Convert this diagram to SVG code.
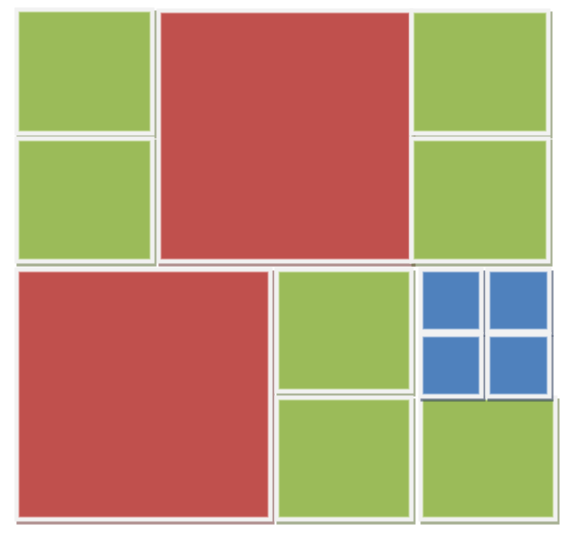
<svg xmlns="http://www.w3.org/2000/svg" width="577" height="546" viewBox="0 0 577 546">
<style>
.fr{fill:#f2f2f2}
.g{fill:#9bbb59;stroke:#c6d9a0;stroke-width:1}
.r{fill:#c0504d;stroke:#dc9896;stroke-width:1}
.b{fill:#4f81bd;stroke:#9db8da;stroke-width:1}
.sg{fill:#4f6228;opacity:.5}
.sr{fill:#632523;opacity:.5}
.sb{fill:#1f3050;opacity:.55}
</style>
<rect width="577" height="546" fill="#ffffff"/>
<g id="connectors"/>
<g id="tileC"><rect class="sr" x="158.5" y="11.5" width="257" height="255"/><rect class="fr" x="156.5" y="8.5" width="257" height="255"/><rect class="r" x="161" y="13" width="248" height="246"/></g>
<g id="tileA"><rect class="sg" x="16.5" y="10.5" width="140" height="128"/><rect class="fr" x="14.5" y="7.5" width="140" height="128"/><rect class="g" x="19" y="12" width="131" height="119"/></g>
<g id="tileB"><rect class="sg" x="16.5" y="139.5" width="140" height="127"/><rect class="fr" x="14.5" y="136.5" width="140" height="127"/><rect class="g" x="19" y="141" width="131" height="118"/></g>
<g id="tileD"><rect class="sg" x="411.5" y="11.5" width="141" height="127"/><rect class="fr" x="409.5" y="8.5" width="141" height="127"/><rect class="g" x="414" y="13" width="132" height="118"/></g>
<g id="tileE"><rect class="sg" x="411.5" y="139.5" width="141" height="127"/><rect class="fr" x="409.5" y="136.5" width="141" height="127"/><rect class="g" x="414" y="141" width="132" height="118"/></g>
<g id="tileF"><rect class="sr" x="16.5" y="270.5" width="258" height="254"/><rect class="fr" x="14.5" y="267.5" width="258" height="254"/><rect class="r" x="19" y="272" width="249" height="245"/></g>
<g id="tileG"><rect class="sg" x="276.5" y="270.5" width="139" height="126"/><rect class="fr" x="274.5" y="267.5" width="139" height="126"/><rect class="g" x="279" y="272" width="130" height="117"/></g>
<g id="tileH"><rect class="sg" x="276.5" y="398.5" width="139" height="126"/><rect class="fr" x="274.5" y="395.5" width="139" height="126"/><rect class="g" x="279" y="400" width="130" height="117"/></g>
<g id="tileI"><rect class="sg" x="420.5" y="398.5" width="139" height="126"/><rect class="fr" x="418.5" y="395.5" width="139" height="126"/><rect class="g" x="423" y="400" width="130" height="117"/></g>
<g id="tileJ"><rect class="sb" x="420.5" y="270.5" width="65" height="66"/><rect class="fr" x="418.5" y="267.5" width="65" height="66"/><rect class="b" x="423" y="272" width="56" height="57"/></g>
<g id="tileK"><rect class="sb" x="487.5" y="270.5" width="66" height="66"/><rect class="fr" x="485.5" y="267.5" width="66" height="66"/><rect class="b" x="490" y="272" width="57" height="57"/></g>
<g id="tileL"><rect class="sb" x="420.5" y="335.5" width="65" height="66"/><rect class="fr" x="418.5" y="332.5" width="65" height="66"/><rect class="b" x="423" y="337" width="56" height="57"/></g>
<g id="tileM"><rect class="sb" x="487.5" y="335.5" width="66" height="66"/><rect class="fr" x="485.5" y="332.5" width="66" height="66"/><rect class="b" x="490" y="337" width="57" height="57"/></g>
</svg>
